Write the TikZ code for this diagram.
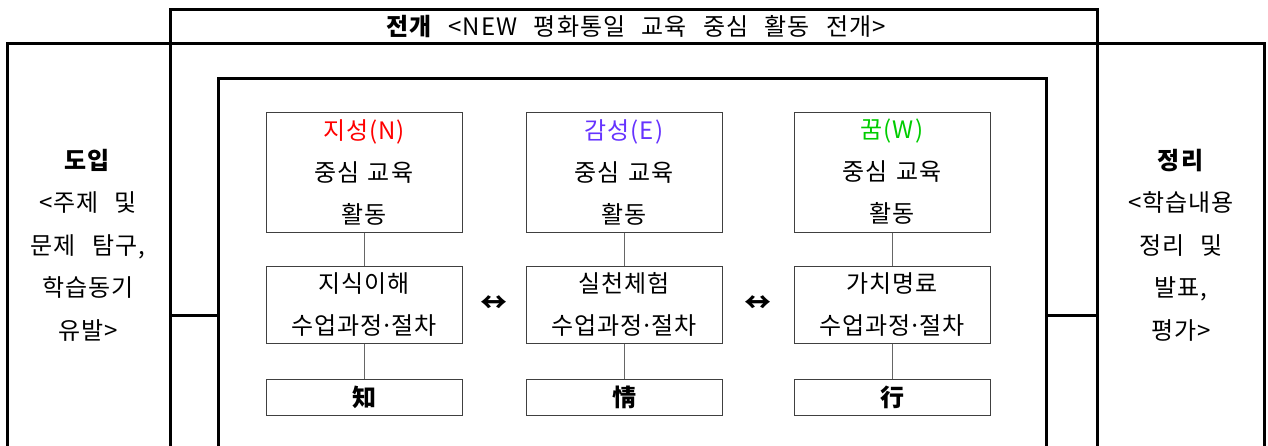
\documentclass[tikz,border=0pt]{standalone}
\usepackage{fontspec}
\setmainfont[LetterSpace=4, WordSpace=2.6]{Noto Sans CJK KR}
\usepackage{xcolor}
\usetikzlibrary{positioning,calc}
\definecolor{jired}{RGB}{255,0,0}
\definecolor{gamblue}{RGB}{102,51,255}
\definecolor{kkumgreen}{RGB}{0,204,0}
\newcommand{\middot}{\makebox[8pt][c]{·}}
\tikzset{
     frame/.style={draw, line width=3pt, inner sep=0pt, outer sep=0pt},
     unit/.style={draw=black!75, line width=1pt, inner sep=0pt, minimum width=196pt,
                  text width=194pt, align=center, font=\fontsize{24}{42}\selectfont},
     link/.style={draw=black!60, line width=1pt}
     }
\tikzstyle{goal} = [unit, minimum height=120pt]
\tikzstyle{way} = [unit, minimum height=77pt]
\tikzstyle{virtue} = [unit, minimum height=36pt, font=\fontsize{24}{42}\selectfont\bfseries]
\tikzstyle{side} = [align=center, font=\fontsize{24}{42.5}\selectfont]

\begin{document}
\begin{tikzpicture}[x=1pt, y=-1pt]
    \useasboundingbox (0,0) rectangle (1268,445);
    \clip (0,0) rectangle (1268,445);

    % outer frames run past the lower edge
    \node [frame, minimum width=1257pt, minimum height=437pt] (whole) at (635.5,261.5) {};
    \node [frame, minimum width=927pt, minimum height=471pt] (dev) at (633.5,244.5) {};
    \node [frame, minimum width=828pt, minimum height=402pt] (inner) at (632,279) {};
    \node [font=\fontsize{24}{26}\selectfont] (title) at (636,26) {\textbf{전개} <NEW 평화통일 교육 중심 활동 전개>};

    \node [side] (intro) at (88,245) {\textbf{도입}\\<주제 및\\문제 탐구,\\학습동기\\유발>};
    \node [side] (wrap) at (1181,245) {\textbf{정리}\\<학습내용\\정리 및\\발표,\\평가>};

    \coordinate (joinL) at (170,315);
    \coordinate (joinR) at (1097,315);
    \draw [line width=3pt] (joinL) -- (inner.west |- joinL);
    \draw [line width=3pt] (inner.east |- joinR) -- (joinR);

    \node [goal] (t1) at (364,172) {\textcolor{jired}{지성(N)}\\중심 교육\\활동};
    \node [goal, right=63pt of t1] (t2) {\textcolor{gamblue}{감성(E)}\\중심 교육\\활동};
    \node [goal, right=71pt of t2] (t3) {\textcolor{kkumgreen}{꿈(W)}\\중심 교육\\활동};

    \node [way, below=33pt of t1] (m1) {지식이해\\수업과정\middot 절차};
    \node [way, below=33pt of t2] (m2) {실천체험\\수업과정\middot 절차};
    \node [way, below=33pt of t3] (m3) {가치명료\\수업과정\middot 절차};

    \node [virtue, below=35pt of m1] (b1) {知};
    \node [virtue, below=35pt of m2] (b2) {情};
    \node [virtue, below=35pt of m3] (b3) {行};

    \foreach \c in {1,2,3} {
        \draw [link] (t\c) -- (m\c);
        \draw [link] (m\c) -- (b\c);
    }

    \node [font=\fontsize{27}{30}\selectfont\bfseries] (swap1) at ($(m1.east)!0.5!(m2.west)$) {↔};
    \node [font=\fontsize{27}{30}\selectfont\bfseries] (swap2) at ($(m2.east)!0.5!(m3.west)$) {↔};
\end{tikzpicture}
\end{document}
